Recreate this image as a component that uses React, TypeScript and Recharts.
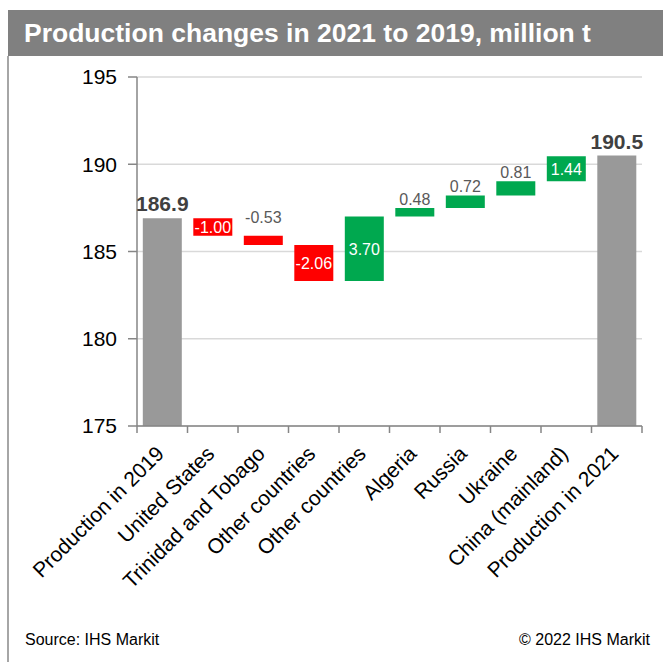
import React from "react";
import { BarChart, Bar, XAxis, YAxis, CartesianGrid, Cell, LabelList } from "recharts";

const categories = [
  "Production in 2019",
  "United States",
  "Trinidad and Tobago",
  "Other countries",
  "Other countries",
  "Algeria",
  "Russia",
  "Ukraine",
  "China (mainland)",
  "Production in 2021",
];
const startTotal = 186.9;
const endTotal = 190.5;
const changes = [-1.0, -0.53, -2.06, 3.7, 0.48, 0.72, 0.81, 1.44];
const yTicks = [175, 180, 185, 190, 195];

const FONT = '"Liberation Sans", Arial, sans-serif';
const W = 663;
const H = 662;
const margin = { top: 77, right: 21, bottom: 0, left: 0 };
const yAxisWidth = 137;
const band = (W - margin.left - margin.right - yAxisWidth) / categories.length;

type Row = { idx: number; range: [number, number]; kind: string; label: string };

// waterfall: each change floats from the running level
const rows: Row[] = [];
rows.push({ idx: 0, range: [yTicks[0], startTotal], kind: "total", label: startTotal.toFixed(1) });
let level = startTotal;
changes.forEach((c, i) => {
  const next = level + c;
  rows.push({
    idx: i + 1,
    range: [Math.min(level, next), Math.max(level, next)],
    kind: c < 0 ? "down" : "up",
    label: c.toFixed(2),
  });
  level = next;
});
rows.push({ idx: rows.length, range: [yTicks[0], endTotal], kind: "total", label: endTotal.toFixed(1) });

const colors: Record<string, string> = { total: "#999999", down: "#FF0000", up: "#00A84F" };

const XTick = (props: any) => {
  const { x, y, payload, index } = props;
  const i = Number(payload.value);
  return (
    <g>
      {index === 0 && (
        <line x1={x - band / 2} y1={y} x2={x - band / 2} y2={y + 7} stroke="#868686" strokeWidth={1.5} />
      )}
      <line x1={x + band / 2} y1={y} x2={x + band / 2} y2={y + 7} stroke="#868686" strokeWidth={1.5} />
      <g transform={`translate(${x + 3},${y + 29})`}>
        <text transform="rotate(-45)" textAnchor="end" fontSize={21} fill="#000" fontFamily={FONT}>
          {categories[i]}
        </text>
      </g>
    </g>
  );
};

const renderLabel = (props: any) => {
  const { x, y, width, height, value } = props;
  const row = rows[Number(value)];
  if (!row) return null;
  const cx = Number(x) + Number(width) / 2;
  const top = Number(y);
  const h = Math.abs(Number(height));
  if (row.kind === "total") {
    return (
      <text x={cx} y={top - 7} textAnchor="middle" fontSize={21} fontWeight="bold" fill="#404040" fontFamily={FONT}>
        {row.label}
      </text>
    );
  }
  if (h >= 16) {
    return (
      <text x={cx} y={top + h / 2 + 6} textAnchor="middle" fontSize={16} fill="#FFFFFF" fontFamily={FONT}>
        {row.label}
      </text>
    );
  }
  return (
    <text x={cx} y={top - (row.kind === "down" ? 13 : 3)} textAnchor="middle" fontSize={16} fill="#595959" fontFamily={FONT}>
      {row.label}
    </text>
  );
};

export default function App() {
  return (
    <div style={{ position: "absolute", left: 0, top: 0, width: W, height: H, background: "#fff", fontFamily: FONT }}>
      <div
        style={{
          position: "absolute",
          left: 8,
          top: 10,
          width: W - 8,
          height: 46,
          background: "#808080",
          color: "#fff",
          fontWeight: "bold",
          fontSize: 26.5,
          lineHeight: "46px",
          paddingLeft: 16,
          boxSizing: "border-box",
          whiteSpace: "nowrap",
        }}
      >
        Production changes in 2021 to 2019, million t
      </div>
      <div style={{ position: "absolute", left: 7, top: 56, width: 1.5, height: H - 56, background: "#A6A6A6" }} />
      <div style={{ position: "absolute", left: 0, top: 0 }}>
        <BarChart width={W} height={H} data={rows} margin={margin} barCategoryGap="11.5%">
          <CartesianGrid vertical={false} stroke="#D9D9D9" strokeWidth={1.5} />
          <XAxis
            dataKey="idx"
            type="category"
            height={H - 426}
            tickLine={false}
            tickSize={0}
            tickMargin={0}
            axisLine={{ stroke: "#868686", strokeWidth: 1.5 }}
            tick={<XTick />}
            interval={0}
          />
          <YAxis
            width={yAxisWidth}
            domain={[175, 195]}
            ticks={yTicks}
            allowDataOverflow
            tickSize={9}
            tickMargin={11}
            axisLine={{ stroke: "#868686", strokeWidth: 1.5 }}
            tickLine={{ stroke: "#868686", strokeWidth: 1.5 }}
            tick={{ fontSize: 21, fill: "#000", fontFamily: FONT }}
          />
          <Bar dataKey="range" isAnimationActive={false}>
            {rows.map((r) => (
              <Cell key={r.idx} fill={colors[r.kind]} />
            ))}
            <LabelList dataKey="idx" content={renderLabel} />
          </Bar>
        </BarChart>
      </div>
      <div style={{ position: "absolute", left: 25, top: 631, fontSize: 16, color: "#000" }}>Source: IHS Markit</div>
      <div style={{ position: "absolute", right: 13, top: 631, fontSize: 16, color: "#000" }}>© 2022 IHS Markit</div>
    </div>
  );
}
